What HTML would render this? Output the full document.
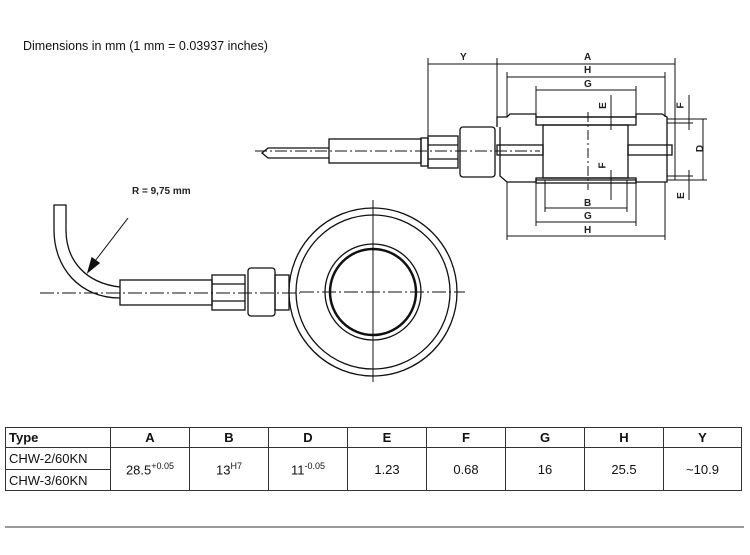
<!DOCTYPE html>
<html><head><meta charset="utf-8"><style>
body{margin:0;width:750px;height:555px;background:#fff;position:relative;font-family:"Liberation Sans",Arial,sans-serif;overflow:hidden}
.t{position:absolute;left:23px;top:39px;font-size:12.5px;color:#111}
table{position:absolute;left:5px;top:427px;border-collapse:collapse;font-size:13px;color:#111}
td{border:1.5px solid #333;text-align:center;padding:0}
sup{font-size:9px}
.hr{position:absolute;left:5px;top:526px;width:739px;height:2px;background:#999}
</style></head><body>
<div class="t">Dimensions in mm (1 mm = 0.03937 inches)</div>
<svg width="750" height="420" style="position:absolute;left:0;top:0" fill="none" stroke="#111" stroke-width="1.3">
<!-- side view -->
<g stroke-width="1">
<line x1="428" y1="64" x2="675" y2="64"/><line x1="428" y1="58" x2="428" y2="137"/><line x1="497" y1="58" x2="497" y2="127"/><line x1="675" y1="58" x2="675" y2="180"/>
<line x1="507" y1="77" x2="665" y2="77"/><line x1="507" y1="72" x2="507" y2="117"/><line x1="665" y1="72" x2="665" y2="117"/>
<line x1="536" y1="90" x2="636" y2="90"/><line x1="536" y1="86" x2="536" y2="117"/><line x1="636" y1="86" x2="636" y2="117"/>
<line x1="545" y1="208" x2="627" y2="208"/><line x1="545" y1="180" x2="545" y2="212"/><line x1="627" y1="180" x2="627" y2="212"/>
<line x1="536" y1="222" x2="636" y2="222"/><line x1="536" y1="182" x2="536" y2="226"/><line x1="636" y1="182" x2="636" y2="226"/>
<line x1="507" y1="236" x2="665" y2="236"/><line x1="507" y1="182" x2="507" y2="240"/><line x1="665" y1="182" x2="665" y2="240"/>
<line x1="703" y1="119" x2="703" y2="180"/><line x1="667" y1="119" x2="707" y2="119"/><line x1="667" y1="180" x2="707" y2="180"/>
<line x1="689" y1="95" x2="689" y2="130"/><line x1="689" y1="170" x2="689" y2="200"/><line x1="667" y1="123" x2="693" y2="123"/><line x1="667" y1="176" x2="693" y2="176"/>
<line x1="611" y1="95" x2="611" y2="130"/><line x1="611" y1="170" x2="611" y2="200"/>
<line x1="588" y1="112" x2="588" y2="190" stroke-dasharray="10 3 2 3"/>
<line x1="255" y1="151" x2="540" y2="151" stroke-dasharray="12 3 2 3"/>
</g>
<path d="M497 127 V117 H507 L510 114 H536 V117 H636 V114 H662 L667 117 V182 H636 V180 H536 V182 H507 L500 176 V127"/>
<rect x="536" y="117" width="100" height="8"/><rect x="536" y="178" width="100" height="5"/>
<rect x="543" y="125" width="85" height="53"/>
<rect x="497" y="145" width="46" height="10"/><rect x="628" y="145" width="44" height="10"/>
<rect x="460" y="127" width="35" height="50" rx="3"/>
<rect x="428" y="136" width="30" height="32"/><line x1="428" y1="145" x2="458" y2="145"/><line x1="428" y1="159" x2="458" y2="159"/>
<rect x="421" y="138" width="7" height="28"/>
<rect x="329" y="139" width="92" height="24"/>
<path d="M329 148 H268 L262 153 L268 158 H329"/>
<!-- front view -->
<circle cx="373" cy="292" r="84"/><circle cx="373" cy="292" r="77"/>
<circle cx="373" cy="292" r="48"/><circle cx="373" cy="292" r="43" stroke-width="2.5"/>
<g stroke-width="1"><line x1="373" y1="200" x2="373" y2="382"/><line x1="300" y1="292" x2="465" y2="292" stroke-dasharray="14 3 2 3"/>
<line x1="40" y1="293" x2="300" y2="293" stroke-dasharray="14 3 2 3"/>
<line x1="128" y1="218" x2="92" y2="265"/></g>
<path d="M88 272 L92 258 L99 263 Z" fill="#111"/>
<rect x="120" y="280" width="92" height="25"/>
<rect x="212" y="275" width="33" height="35"/><line x1="212" y1="284" x2="245" y2="284"/><line x1="212" y1="301" x2="245" y2="301"/>
<rect x="248" y="268" width="27" height="48" rx="3"/><rect x="275" y="275" width="14" height="35"/>
<path d="M120 287 C85 283 66 260 66 230 V205 H54 V230 C54 268 80 298 120 298"/>
</svg>
<div style="position:absolute;left:132px;top:186px;font-size:10px;font-weight:bold;color:#222">R = 9,75 mm</div>
<div style="position:absolute;font-size:10px;font-weight:bold;color:#222">
<span style="position:absolute;left:460px;top:52px">Y</span><span style="position:absolute;left:584px;top:52px">A</span>
<span style="position:absolute;left:584px;top:65px">H</span><span style="position:absolute;left:584px;top:79px">G</span>
<span style="position:absolute;left:584px;top:198px">B</span><span style="position:absolute;left:584px;top:211px">G</span><span style="position:absolute;left:584px;top:225px">H</span>
<span style="position:absolute;left:697px;top:143px;transform:rotate(-90deg)">D</span>
<span style="position:absolute;left:600px;top:100px;transform:rotate(-90deg)">E</span><span style="position:absolute;left:600px;top:160px;transform:rotate(-90deg)">F</span>
<span style="position:absolute;left:678px;top:100px;transform:rotate(-90deg)">F</span><span style="position:absolute;left:678px;top:190px;transform:rotate(-90deg)">E</span>
</div>
<table>
<tr style="height:20px;font-weight:bold"><td style="width:101px;text-align:left;padding-left:3px">Type</td><td style="width:78px">A</td><td style="width:78px">B</td><td style="width:78px">D</td><td style="width:78px">E</td><td style="width:78px">F</td><td style="width:78px">G</td><td style="width:78px">H</td><td style="width:77px">Y</td></tr>
<tr style="height:22px"><td style="text-align:left;padding-left:3px">CHW-2/60KN</td><td rowspan="2">28.5<sup>+0.05</sup></td><td rowspan="2">13<sup>H7</sup></td><td rowspan="2">11<sup>-0.05</sup></td><td rowspan="2">1.23</td><td rowspan="2">0.68</td><td rowspan="2">16</td><td rowspan="2">25.5</td><td rowspan="2">~10.9</td></tr>
<tr style="height:21px"><td style="text-align:left;padding-left:3px">CHW-3/60KN</td></tr>
</table>
<div class="hr"></div>
</body></html>
